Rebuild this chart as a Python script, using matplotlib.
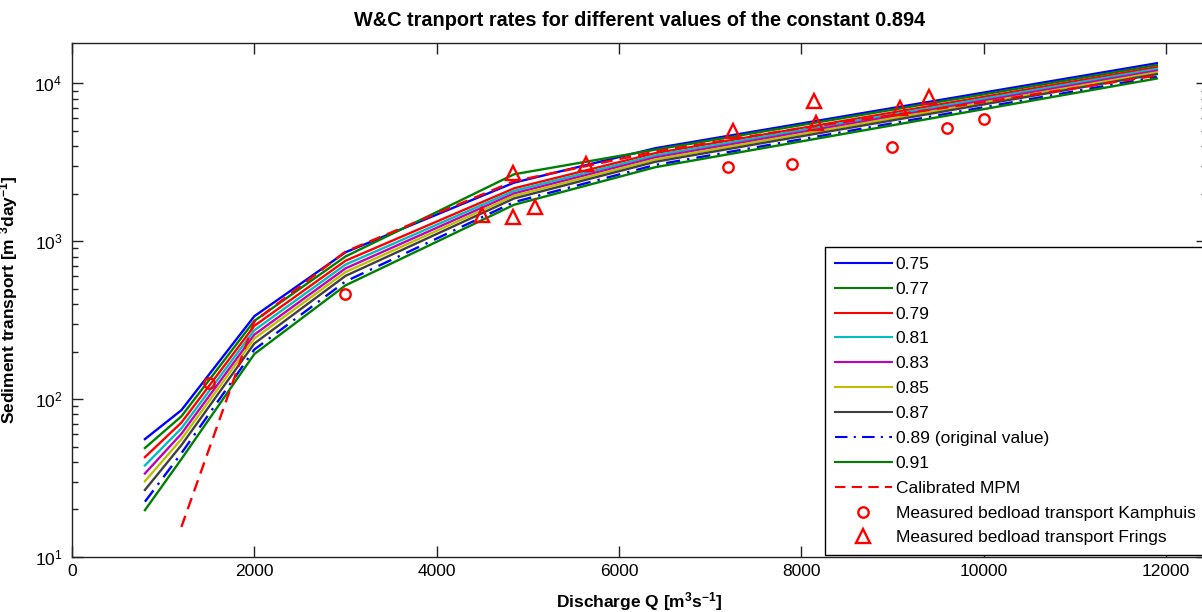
import matplotlib
matplotlib.use("Agg")
import matplotlib.pyplot as plt
from matplotlib.ticker import LogLocator, FixedLocator, NullLocator

plt.rcParams['font.family'] = ['Liberation Sans', 'DejaVu Sans']
plt.rcParams['mathtext.fontset'] = 'custom'
plt.rcParams['mathtext.rm'] = 'Liberation Sans'
plt.rcParams['mathtext.it'] = 'Liberation Sans:italic'
plt.rcParams['mathtext.bf'] = 'Liberation Sans:bold'

# ---- data ----
discharge = [800, 1200, 2000, 3000, 4850, 6400, 11900]
c075 = [55.8, 85.1, 335, 851, 2350, 3882, 13400]
c077 = [49.0, 77.8, 313, 800, 2655, 3800, 13030]
c079 = [42.9, 71.0, 291, 752, 2163, 3614, 12650]
c081 = [38.0, 65.3, 273, 711, 2084, 3499, 12330]
c083 = [33.8, 60.3, 256, 673, 2009, 3396, 12020]
c085 = [30.2, 55.7, 242, 638, 1941, 3296, 11720]
c087 = [26.6, 51.1, 225, 603, 1866, 3184, 11430]
c089 = [22.4, 45.4, 206, 556, 1770, 3041, 10990]
c091 = [19.8, 41.7, 193, 525, 1702, 2944, 10720]

mpm_q = [1200, 2000, 3000, 4850, 6400, 8000, 10000, 11900]
mpm_v = [15.5, 310, 860, 2400, 3700, 5200, 7600, 11200]

kamphuis_q = [1500, 3000, 7200, 7900, 9000, 9600, 10000]
kamphuis_v = [126, 463, 2940, 3070, 3935, 5190, 5910]

frings_q = [4500, 4840, 5080, 4840, 5640, 7250, 8140, 8160, 9080, 9400]
frings_v = [1462, 1419, 1642, 2690, 3070, 4965, 7690, 5580, 6950, 8150]

labels = ['0.75', '0.77', '0.79', '0.81', '0.83', '0.85', '0.87',
          '0.89 (original value)', '0.91']
x_ticks = [0, 2000, 4000, 6000, 8000, 10000, 12000]

series = [c075, c077, c079, c081, c083, c085, c087, c089, c091]
colors = [(0, 0, 1), (0, 0.5, 0), (1, 0, 0), (0, 0.75, 0.75), (0.75, 0, 0.75),
          (0.75, 0.75, 0), (0.25, 0.25, 0.25), (0, 0, 1), (0, 0.5, 0)]
styles = ['-'] * 7 + [(0, (6, 3, 1, 3)), '-']

W, H = 1202, 612
fig = plt.figure(figsize=(W / 100, H / 100), dpi=100)
ax_l, ax_r, ax_t, ax_b = 72, 1207, 43, 557
ax = fig.add_axes([ax_l / W, (H - ax_b) / H, (ax_r - ax_l) / W, (ax_b - ax_t) / H])

lw = 1.7
for vals, col, ls, lab in zip(series, colors, styles, labels):
    ax.plot(discharge, vals, color=col, linestyle=ls, lw=lw, label=lab)
ax.plot(mpm_q, mpm_v, color='red', linestyle=(0, (5, 3)), lw=lw, label='Calibrated MPM')
ax.plot(kamphuis_q, kamphuis_v, linestyle='none', marker='o', ms=7.5, mfc='none',
        mec='red', mew=1.7, label='Measured bedload transport Kamphuis')
ax.plot(frings_q, frings_v, linestyle='none', marker='^', ms=9.5, mfc='none',
        mec='red', mew=1.7, label='Measured bedload transport Frings')

ax.set_yscale('log')
ax.set_xlim(0, 12450)
ax.set_ylim(10, 1.8e4)
ax.xaxis.set_major_locator(FixedLocator(x_ticks))
ax.xaxis.set_minor_locator(NullLocator())
ax.yaxis.set_major_locator(LogLocator(base=10, numticks=10))
ax.yaxis.set_minor_locator(LogLocator(base=10, subs=range(2, 10), numticks=20))

ax.tick_params(which='both', direction='in', top=True, right=True, colors='#222222',
               labelcolor='black', labelsize=12.5)
ax.tick_params(which='major', length=8, width=1)
ax.tick_params(which='minor', length=4.5, width=1)
ax.tick_params(axis='x', pad=5)
ax.tick_params(axis='y', pad=7)
for s in ax.spines.values():
    s.set_color('#222222')
    s.set_linewidth(1)

ax.set_title('W&C tranport rates for different values of the constant 0.894',
             fontsize=14.3, fontweight='bold', pad=12)
ax.set_xlabel(r'Discharge Q [m$^{\mathbf{3}}$s$^{\mathbf{-1}}$]', fontsize=12.5,
              fontweight='bold', labelpad=8)
ax.set_ylabel(r'Sediment transport [m $^{\mathbf{3}}$day$^{\mathbf{-1}}$]', fontsize=12.5,
              fontweight='bold', labelpad=10)

leg = ax.legend(loc='lower right', bbox_to_anchor=(1205 / W, (H - 555) / H),
                bbox_transform=fig.transFigure, fontsize=12.5, frameon=True,
                fancybox=False, edgecolor='black', framealpha=1, numpoints=1,
                handlelength=3.3, handletextpad=0.2, labelspacing=0.56,
                borderpad=0.55, borderaxespad=0)
leg.get_frame().set_linewidth(1)
for h in leg.get_lines():
    h.set_linewidth(1.5)

fig.savefig('out.png', dpi=100)
